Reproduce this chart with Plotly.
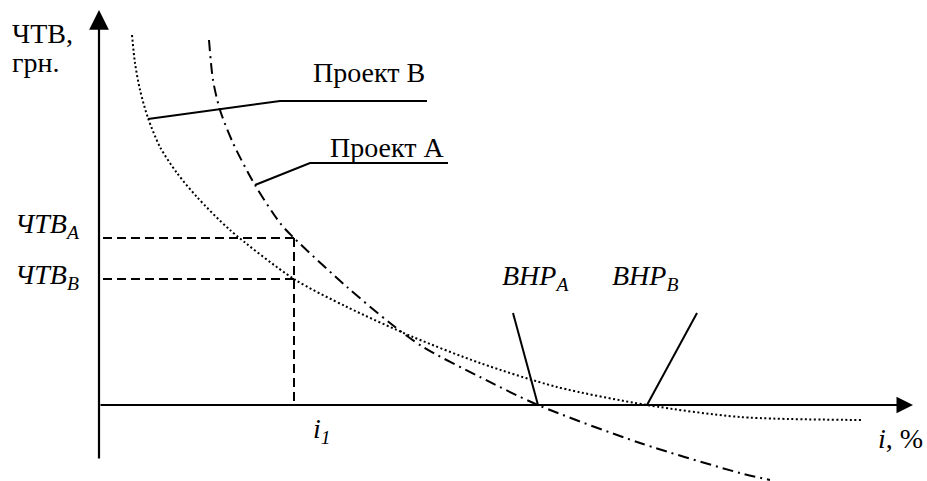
import plotly.graph_objects as go

# ---- data (schematic units: x = discount rate i, y = NPV) ----
curve_b_i = [33, 36, 41, 49, 61, 78, 98, 131, 195, 248, 314, 381, 458, 548, 641, 763]
curve_b_npv = [370, 342, 315, 287, 258, 232, 208, 175, 126, 98, 68, 42, 18, 0, -12, -15]

curve_a_i = [110, 114, 121, 134, 156, 181, 195, 248, 291, 324, 381, 439, 541, 641, 671]
curve_a_npv = [365, 325, 295, 262, 220, 182, 167, 118, 82, 58, 28, 0, -38, -68, -75]

i1 = 195
npv_a_at_i1 = 167
npv_b_at_i1 = 126
irr_a = 439
irr_b = 548

leader_b_i = [49, 181, 328]
leader_b_npv = [286, 304, 304]
leader_a_i = [156, 211, 349]
leader_a_npv = [220, 242, 242]
leader_irr_a_i = [414, irr_a]
leader_irr_a_npv = [92, 0]
leader_irr_b_i = [598, irr_b]
leader_irr_b_npv = [92, 0]

y_axis_bottom = -55
y_axis_top = 395
x_axis_end = 814
x_min, x_max = -99, 828
y_min, y_max = -76, 405

FONT = "Liberation Serif, Times New Roman, serif"
FS = 28

fig = go.Figure()

# curves
fig.add_trace(go.Scatter(x=curve_b_i, y=curve_b_npv, mode="lines",
                         line=dict(color="black", width=2, dash="2px,2.5px", shape="spline", smoothing=0.8),
                         hoverinfo="skip", showlegend=False))
fig.add_trace(go.Scatter(x=curve_a_i, y=curve_a_npv, mode="lines",
                         line=dict(color="black", width=2, dash="11px,5px,2px,5px", shape="spline", smoothing=0.8),
                         hoverinfo="skip", showlegend=False))

# dashed guide lines
dash_style = dict(color="black", width=2, dash="9px,5px")
fig.add_trace(go.Scatter(x=[4, i1], y=[npv_a_at_i1, npv_a_at_i1], mode="lines", line=dash_style,
                         hoverinfo="skip", showlegend=False))
fig.add_trace(go.Scatter(x=[4, i1], y=[npv_b_at_i1, npv_b_at_i1], mode="lines", line=dash_style,
                         hoverinfo="skip", showlegend=False))
fig.add_trace(go.Scatter(x=[i1, i1], y=[npv_a_at_i1, 0], mode="lines", line=dash_style,
                         hoverinfo="skip", showlegend=False))

# leader lines
for lx, ly in [(leader_b_i, leader_b_npv), (leader_a_i, leader_a_npv),
               (leader_irr_a_i, leader_irr_a_npv), (leader_irr_b_i, leader_irr_b_npv)]:
    fig.add_trace(go.Scatter(x=lx, y=ly, mode="lines", line=dict(color="black", width=2),
                             hoverinfo="skip", showlegend=False))

# axes with arrows
fig.add_annotation(x=0, y=y_axis_top, ax=0, ay=y_axis_bottom, xref="x", yref="y", axref="x", ayref="y",
                   text="", showarrow=True, arrowhead=2, arrowsize=1.8, arrowwidth=2.2, arrowcolor="black")
fig.add_annotation(x=x_axis_end, y=0, ax=0, ay=0, xref="x", yref="y", axref="x", ayref="y",
                   text="", showarrow=True, arrowhead=2, arrowsize=1.5, arrowwidth=2.2, arrowcolor="black")

def label(txt, x, y, family=FONT, size=FS):
    fig.add_annotation(x=x, y=y, xref="x", yref="y", text=txt, showarrow=False,
                       xanchor="left", yanchor="middle",
                       font=dict(family=family, size=size, color="black"))

label("ЧТВ,", -89, 371.5)
label("грн.", -89, 342.5)
label("Проект В", 212, 332.5)
label("Проект А", 229, 257.5)
label("<i>ЧТВ<sub>А</sub></i>", -86, 179.5)
label("<i>ЧТВ<sub>В</sub></i>", -86, 128.5)
label("<i>ВНР<sub>А</sub></i>", 401, 127.5)
label("<i>ВНР<sub>В</sub></i>", 511, 127.5)
label("<i>i<sub>1</sub></i>", 212, -25.5)
label("<i>i</i>, %", 777, -33.5)

fig.update_layout(
    width=927, height=481,
    margin=dict(l=0, r=0, t=0, b=0),
    paper_bgcolor="white", plot_bgcolor="white",
    xaxis=dict(range=[x_min, x_max], visible=False, fixedrange=True),
    yaxis=dict(range=[y_min, y_max], visible=False, fixedrange=True),
    showlegend=False,
)

fig.write_html("out.html", config={"displayModeBar": False},
               post_script="document.body.style.margin='0';document.body.style.overflow='hidden';")
